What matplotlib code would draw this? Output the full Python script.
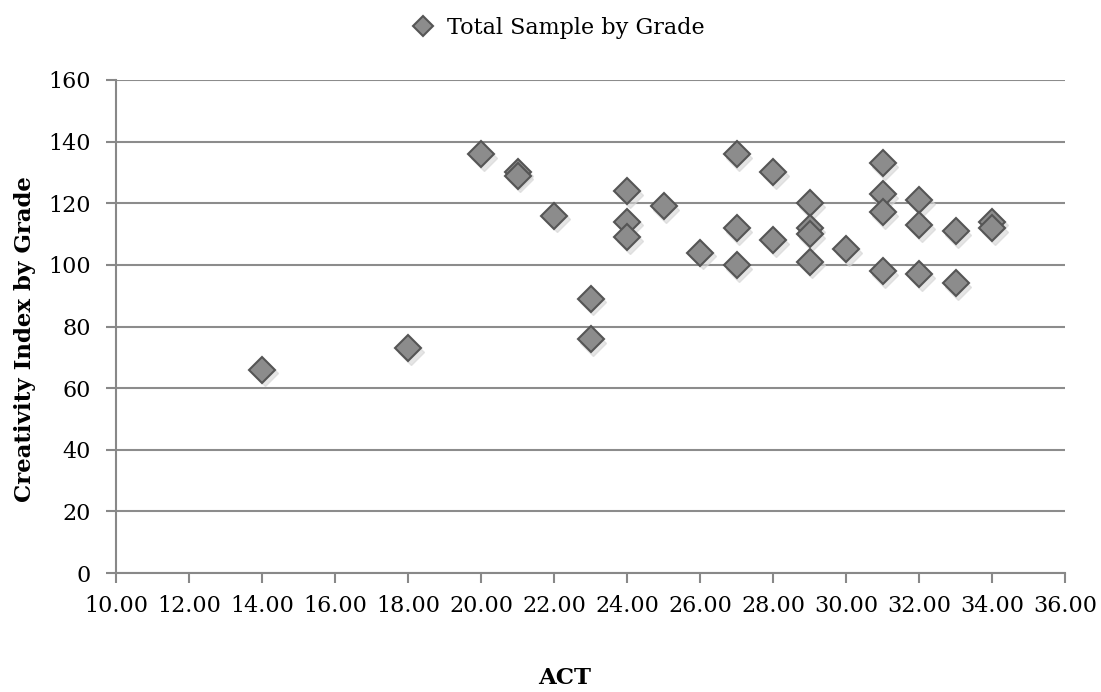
import matplotlib.pyplot as plt

# ACT score vs creativity index
act = [14, 18, 20, 21, 21, 22, 23, 23, 24, 24, 24, 25, 26,
       27, 27, 27, 28, 28, 29, 29, 29, 29, 30,
       31, 31, 31, 31, 32, 32, 32, 33, 33, 34, 34]
creativity = [66, 73, 136, 130, 129, 116, 89, 76, 124, 114, 109, 119, 104,
              136, 112, 100, 130, 108, 120, 112, 110, 101, 105,
              133, 123, 117, 98, 121, 113, 97, 111, 94, 114, 112]

x_ticks = [10, 12, 14, 16, 18, 20, 22, 24, 26, 28, 30, 32, 34, 36]
y_ticks = [0, 20, 40, 60, 80, 100, 120, 140, 160]

plt.rcParams['font.family'] = ['DejaVu Serif']

fig = plt.figure(figsize=(11.01, 6.92), dpi=100)
ax = fig.add_axes([116 / 1101, 1 - 573 / 692, (1065 - 116) / 1101, (573 - 80) / 692])

# soft shadow behind the markers
ax.plot([a + 0.08 for a in act], [c - 1.2 for c in creativity], linestyle='none',
        marker='D', markersize=13, color='#d4d4d4', alpha=0.6, zorder=2)
ax.plot(act, creativity, linestyle='none', marker='D', markersize=13,
        markerfacecolor='#8c8c8c', markeredgecolor='#555555', markeredgewidth=1.5,
        zorder=3, label='Total Sample by Grade')

ax.set_xlim(10, 36)
ax.set_ylim(0, 160)
ax.set_xticks(x_ticks)
ax.set_xticklabels([f'{t:.2f}' for t in x_ticks])
ax.set_yticks(y_ticks)
ax.tick_params(labelsize=16, color='#888888', length=7, width=1.5, direction='out')
ax.tick_params(axis='x', pad=9)
ax.tick_params(axis='y', pad=11)
ax.yaxis.grid(True, color='#8c8c8c', linewidth=1.5)
ax.set_axisbelow(True)
for side in ['top', 'right']:
    ax.spines[side].set_visible(False)
for side in ['left', 'bottom']:
    ax.spines[side].set_color('#888888')
    ax.spines[side].set_linewidth(1.5)

ax.set_xlabel('ACT', fontsize=16.5, fontweight='bold')
ax.xaxis.set_label_coords(0.473, -0.19)
ax.set_ylabel('Creativity Index by Grade', fontsize=16.5, fontweight='bold')
ax.yaxis.set_label_coords(-0.084, 0.475)

fig.legend(loc='upper center', bbox_to_anchor=(0.502, 1.005), frameon=False,
           fontsize=16, handletextpad=0.1, markerscale=0.75)

fig.savefig('out.png', dpi=100)
